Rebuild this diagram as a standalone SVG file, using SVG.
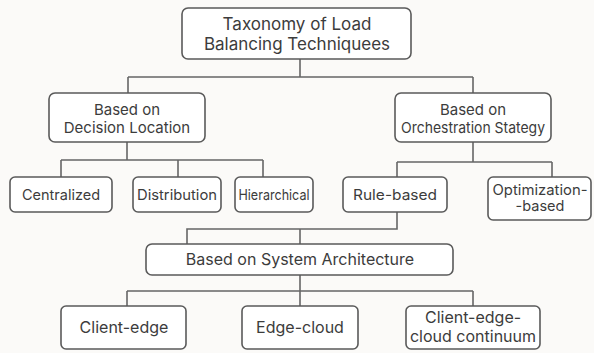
<svg xmlns="http://www.w3.org/2000/svg" width="594" height="353" viewBox="0 0 594 353">
<style>
.box{fill:#ffffff;stroke:#5a5a5a;stroke-width:1.6}
.ln{fill:none;stroke:#666666;stroke-width:1.6}
text{font-family:Inter,"Noto Sans","Liberation Sans",sans-serif;fill:#3c3c3c;text-anchor:middle}
.t1{font-size:17px}
.t2{font-size:15px}
.t3{font-size:14.5px}
.t4{font-size:16px}
</style>
<rect width="594" height="353" fill="#fbfaf8"/>
<g id="connectors">
<path class="ln" d="M300,59 V77 M128,77 H473 M128,77 V93 M473,77 V93"/>
<path class="ln" d="M127,142 V160 M61,160 H263 M61,160 V177 M178,160 V177 M263,160 V177"/>
<path class="ln" d="M473,142 V162 M397,162 H552 M397,162 V177 M552,162 V177"/>
<path class="ln" d="M397,212 V229 H187 V244 M300,229 V244"/>
<path class="ln" d="M300,275 V291 M127,291 H473 M127,291 V306 M300,291 V306 M473,291 V306"/>
</g>
<g id="root">
<rect class="box" x="182" y="8" width="229" height="51" rx="6"/>
<text class="t1" x="297" y="30">Taxonomy of Load</text>
<text class="t1" x="297" y="50">Balancing Techniquees</text>
</g>
<g id="decision">
<rect class="box" x="49" y="93" width="156" height="49" rx="6"/>
<text class="t2" x="127" y="115">Based on</text>
<text class="t2" x="127" y="133">Decision Location</text>
</g>
<g id="orchestration">
<rect class="box" x="395" y="93" width="156" height="49" rx="6"/>
<text class="t2" x="473" y="115">Based on</text>
<text class="t2" x="473" y="133" textLength="144" lengthAdjust="spacingAndGlyphs">Orchestration Stategy</text>
</g>
<g id="centralized">
<rect class="box" x="10" y="177" width="102" height="35" rx="5"/>
<text class="t3" x="61" y="199.5">Centralized</text>
</g>
<g id="distribution">
<rect class="box" x="133" y="177" width="88" height="35" rx="5"/>
<text class="t3" x="177" y="199.5" textLength="80" lengthAdjust="spacingAndGlyphs">Distribution</text>
</g>
<g id="hierarchical">
<rect class="box" x="235" y="177" width="78" height="35" rx="5"/>
<text class="t3" x="274" y="199.5" textLength="71" lengthAdjust="spacingAndGlyphs">Hierarchical</text>
</g>
<g id="rule">
<rect class="box" x="343" y="177" width="104" height="35" rx="5"/>
<text class="t3" x="395" y="199.5" textLength="84" lengthAdjust="spacingAndGlyphs">Rule-based</text>
</g>
<g id="optimization">
<rect class="box" x="488" y="177" width="103" height="43" rx="5"/>
<text class="t3" x="540" y="195" textLength="95" lengthAdjust="spacingAndGlyphs">Optimization-</text>
<text class="t3" x="540" y="211">-based</text>
</g>
<g id="system">
<rect class="box" x="146" y="244" width="307" height="31" rx="6"/>
<text class="t4" x="300" y="265">Based on System Architecture</text>
</g>
<g id="client-edge">
<rect class="box" x="61" y="306" width="125" height="43" rx="5"/>
<text class="t4" x="124" y="333">Client-edge</text>
</g>
<g id="edge-cloud">
<rect class="box" x="242" y="306" width="116" height="43" rx="5"/>
<text class="t4" x="300" y="333">Edge-cloud</text>
</g>
<g id="continuum">
<rect class="box" x="406" y="306" width="134" height="43" rx="5"/>
<text class="t4" x="473" y="323">Client-edge-</text>
<text class="t4" x="473" y="342">cloud continuum</text>
</g>
</svg>
